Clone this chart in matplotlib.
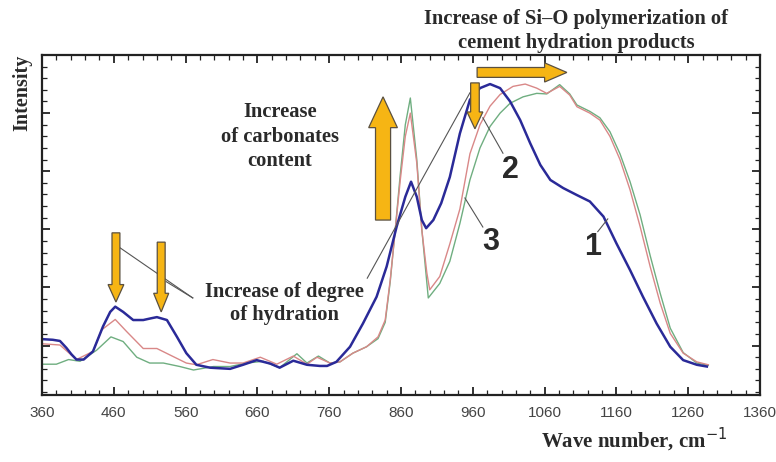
import numpy as np
import matplotlib
matplotlib.use("Agg")
import matplotlib.pyplot as plt
from matplotlib.patches import FancyArrow
from matplotlib.ticker import MultipleLocator

# spectrum 1 (blue), 2 (red), 3 (green)
wn1 = [362, 375, 385, 394, 401, 408, 418, 431, 445, 455, 462, 473, 487, 501, 512, 520, 534, 548, 561,
       575, 594, 622, 640, 659, 678, 691, 710, 729, 747, 757, 770, 789, 807, 826, 840, 854, 866, 874,
       882, 889, 895, 905, 916, 928, 942, 956, 970, 984, 998, 1012, 1026, 1040, 1054, 1068, 1086, 1105,
       1123, 1142, 1160, 1179, 1197, 1216, 1235, 1253, 1272, 1286]
int1 = [1.11, 1.10, 1.08, 0.96, 0.85, 0.76, 0.76, 0.90, 1.33, 1.58, 1.67, 1.58, 1.44, 1.44, 1.47, 1.49,
        1.44, 1.15, 0.87, 0.67, 0.62, 0.60, 0.67, 0.75, 0.69, 0.62, 0.74, 0.67, 0.65, 0.65, 0.72, 0.98,
        1.38, 1.84, 2.36, 3.05, 3.56, 3.82, 3.56, 3.16, 3.02, 3.16, 3.45, 3.90, 4.65, 5.23, 5.43, 5.50,
        5.43, 5.20, 4.88, 4.48, 4.11, 3.85, 3.71, 3.59, 3.48, 3.22, 2.76, 2.30, 1.84, 1.38, 0.98, 0.75,
        0.67, 0.64]

wn2 = [362, 385, 408, 431, 443, 462, 478, 501, 520, 538, 561, 575, 598, 622, 640, 664, 687, 710, 729,
       743, 761, 775, 793, 812, 828, 838, 845, 852, 859, 866, 873, 882, 889, 896, 900, 914, 928, 942,
       956, 970, 984, 998, 1016, 1033, 1049, 1063, 1081, 1095, 1105, 1123, 1137, 1151, 1165, 1179, 1193,
       1207, 1221, 1235, 1253, 1272, 1288]
int2 = [1.03, 1.01, 0.76, 0.90, 1.27, 1.45, 1.24, 0.95, 0.95, 0.84, 0.70, 0.67, 0.76, 0.70, 0.70, 0.80,
        0.68, 0.82, 0.68, 0.80, 0.70, 0.72, 0.87, 0.98, 1.15, 1.44, 2.13, 2.99, 3.85, 4.60, 5.00, 4.14,
        2.99, 2.25, 1.96, 2.19, 2.75, 3.35, 4.30, 4.80, 5.12, 5.32, 5.46, 5.50, 5.43, 5.34, 5.46, 5.31,
        5.11, 5.00, 4.88, 4.60, 4.20, 3.68, 3.05, 2.36, 1.73, 1.21, 0.87, 0.72, 0.67]

wn3 = [362, 380, 397, 413, 436, 456, 473, 492, 510, 529, 552, 571, 599, 622, 645, 668, 691, 715, 729,
       745, 761, 775, 793, 812, 828, 838, 845, 852, 859, 866, 873, 882, 889, 898, 914, 928, 942, 956,
       970, 984, 998, 1012, 1030, 1049, 1063, 1081, 1095, 1105, 1123, 1137, 1151, 1165, 1179, 1193,
       1207, 1221, 1235, 1253, 1272, 1288]
int3 = [0.68, 0.68, 0.76, 0.73, 0.92, 1.15, 1.07, 0.80, 0.70, 0.70, 0.64, 0.58, 0.64, 0.64, 0.70, 0.73,
        0.62, 0.86, 0.70, 0.82, 0.70, 0.72, 0.87, 0.98, 1.12, 1.40, 2.10, 3.00, 3.95, 4.80, 5.26, 4.20,
        3.00, 1.82, 2.07, 2.45, 3.10, 3.85, 4.40, 4.77, 5.00, 5.17, 5.28, 5.34, 5.33, 5.49, 5.33, 5.14,
        5.03, 4.92, 4.68, 4.30, 3.82, 3.25, 2.55, 1.90, 1.30, 0.88, 0.70, 0.66]

xticks = [360, 460, 560, 660, 760, 860, 960, 1060, 1160, 1260, 1360]

serif = "Liberation Serif"
sans = "Liberation Sans"
gold = "#f6b514"
txt = "#2a2a2a"

fig = plt.figure(figsize=(7.76, 4.62), dpi=100)
ax = fig.add_axes([42/776, 1 - 395/462, 718/776, 340/462])

ax.plot(wn3, int3, color="#6fae80", lw=1.0)
ax.plot(wn2, int2, color="#d98888", lw=1.0)
ax.plot(wn1, int1, color="#2a2a98", lw=1.8)

ax.set_xlim(360, 1360)
ax.set_ylim(0.15, 6.0)
ax.set_xticks(xticks)
ax.xaxis.set_minor_locator(MultipleLocator(20))
ax.yaxis.set_major_locator(MultipleLocator(1))
ax.yaxis.set_minor_locator(MultipleLocator(0.2))
ax.tick_params(which="both", direction="in", top=True, right=True, color="#222222")
ax.tick_params(which="major", length=6, width=1.3)
ax.tick_params(which="minor", length=3.5, width=0.9)
ax.tick_params(axis="x", labelsize=11, labelcolor="#444444", pad=8)
ax.set_yticklabels([])
for lab in ax.get_xticklabels():
    lab.set_fontfamily(sans)
for s in ax.spines.values():
    s.set_linewidth(1.6)
    s.set_color("#222222")

# arrows
def arrow(x, y, dx, dy, w, hw, hl):
    ax.add_patch(FancyArrow(x, y, dx, dy, width=w, head_width=hw, head_length=hl,
                            length_includes_head=True, fc=gold, ec="#5a5040", lw=0.9, zorder=5))

arrow(463, 2.94, 0, -1.19, 11, 22, 0.30)
arrow(526, 2.78, 0, -1.20, 11, 21, 0.32)
arrow(835, 3.16, 0, 2.12, 21, 40, 0.53)
arrow(963, 5.52, 0, -0.79, 12, 22, 0.29)
arrow(966, 5.70, 125, 0, 0.17, 0.33, 31)

# leader lines
lc = "#555555"
ax.plot([570, 469], [1.82, 2.68], color=lc, lw=0.8)
ax.plot([570, 533], [1.82, 2.10], color=lc, lw=0.8)
ax.plot([813, 956], [2.16, 5.35], color=lc, lw=0.8)
ax.plot([1002, 974], [4.31, 4.92], color=lc, lw=0.8)
ax.plot([974, 949], [3.04, 3.54], color=lc, lw=0.8)
ax.plot([1134, 1148], [2.96, 3.18], color=lc, lw=0.8)

ax.text(1013, 4.02, "2", fontsize=22, fontweight="bold", family=sans, color=txt, ha="center", va="center")
ax.text(985, 2.78, "3", fontsize=22, fontweight="bold", family=sans, color=txt, ha="center", va="center")
ax.text(1127, 2.69, "1", fontsize=22, fontweight="bold", family=sans, color=txt, ha="center", va="center")

ax.text(691, 4.59, "Increase\nof carbonates\ncontent", fontsize=14.8, fontweight="bold", family=serif,
        color=txt, ha="center", va="center", linespacing=1.3)
ax.text(697, 1.72, "Increase of degree\nof hydration", fontsize=14.8, fontweight="bold", family=serif,
        color=txt, ha="center", va="center", linespacing=1.22)

fig.text(576/776, 1 - 31/462, "Increase of Si\u2013O polymerization of\ncement hydration products",
         fontsize=14.8, fontweight="bold", family=serif, color=txt, ha="center", va="center", linespacing=1.3)
fig.text(22/776, 1 - 93/462, "Intensity", fontsize=14.5, fontweight="bold", family=serif, color=txt,
         rotation=90, ha="center", va="center")
fig.text(634/776, 1 - 440/462, r"Wave number, cm$^{-1}$", fontsize=15, fontweight="bold", family=serif,
         color=txt, ha="center", va="center")

fig.savefig("out.png", dpi=100)
